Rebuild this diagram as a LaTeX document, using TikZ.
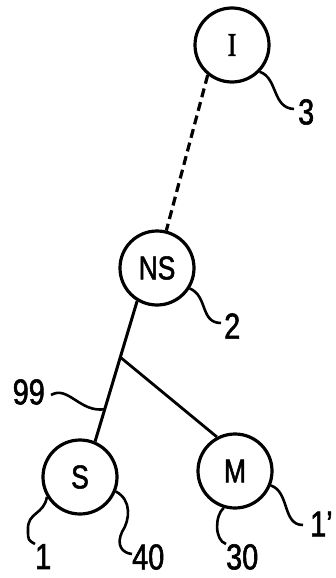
\documentclass[tikz,border=0pt]{standalone}
\usepackage{fontspec}
\setmainfont{Liberation Sans}[FakeStretch=0.8, FakeBold=1.6]
\newfontfamily\serifletter{Liberation Serif}[FakeStretch=0.8, FakeBold=1.6]
\usetikzlibrary{calc}

\tikzset{
  unit/.style={circle, draw, line width=3.2pt, minimum size=74pt, inner sep=0pt,
    font=\fontsize{33}{33}\selectfont},
  tag/.style={inner sep=0pt, font=\fontsize{36}{36}\selectfont},
  leader/.style={line width=2.6pt}
}

\begin{document}
\begin{tikzpicture}[x=1pt, y=-1pt]
  \useasboundingbox (0,0) rectangle (335,578);

  \node[unit] (I) at (232,45) {\serifletter I};
  \node[unit] (NS) at (157,268) {NS};
  \node[unit] (S) at (80,477) {S};
  \node[unit] (M) at (235,471) {M};

  \draw [line width=3.2pt, dash pattern=on 9pt off 5pt] (I.231) -- (NS.76);
  \draw [line width=3pt] (NS.239) -- (S.67);
  \coordinate (branch) at ($(NS.239) !.4! (S.67)$);
  \coordinate (tick) at ($(NS.239) !.77! (S.67)$);
  \draw [line width=2.8pt] (branch) -- (M.118);

  % reference numerals
  \node[tag, anchor=west] (l3) at (298,112) {3};
  \node[tag, anchor=west] (l2) at (224,326) {2};
  \node[tag, anchor=east] (l99) at (45,392) {99};
  \node[tag, anchor=north west] (l1) at (35,544) {1};
  \node[tag, anchor=west] (l40) at (132,557) {40};
  \node[tag, anchor=north west] (l30) at (226,544) {30};
  \node[tag, anchor=west] (l1p) at (310,524) {1'};

  \draw [leader] (I.-44) .. controls (278,78) and (272,108) .. ($(l3.west)+(-4,-3)$);
  \draw [leader] (NS.-32) .. controls (208,296) and (200,323) .. ($(l2.west)+(-3,-3)$);
  \draw [leader] ($(l99.east)+(6,3)$) .. controls (68,385) and (80,413) .. (tick);
  \draw [leader] (S.211) .. controls (44,515) and (27,512) .. (28,530) .. controls (28,540) .. (l1.north west);
  \draw [leader] (S.-22) .. controls (132,500) and (130,520) .. (122,532) .. controls (116,545) and (122,553) .. ($(l40.west)+(0,-3)$);
  \draw [leader] (M.253) .. controls (215,515) and (214,540) .. (l30.north west);
  \draw [leader] (M.-22) .. controls (290,492) and (282,525) .. ($(l1p.west)+(-7,1)$);
\end{tikzpicture}
\end{document}
